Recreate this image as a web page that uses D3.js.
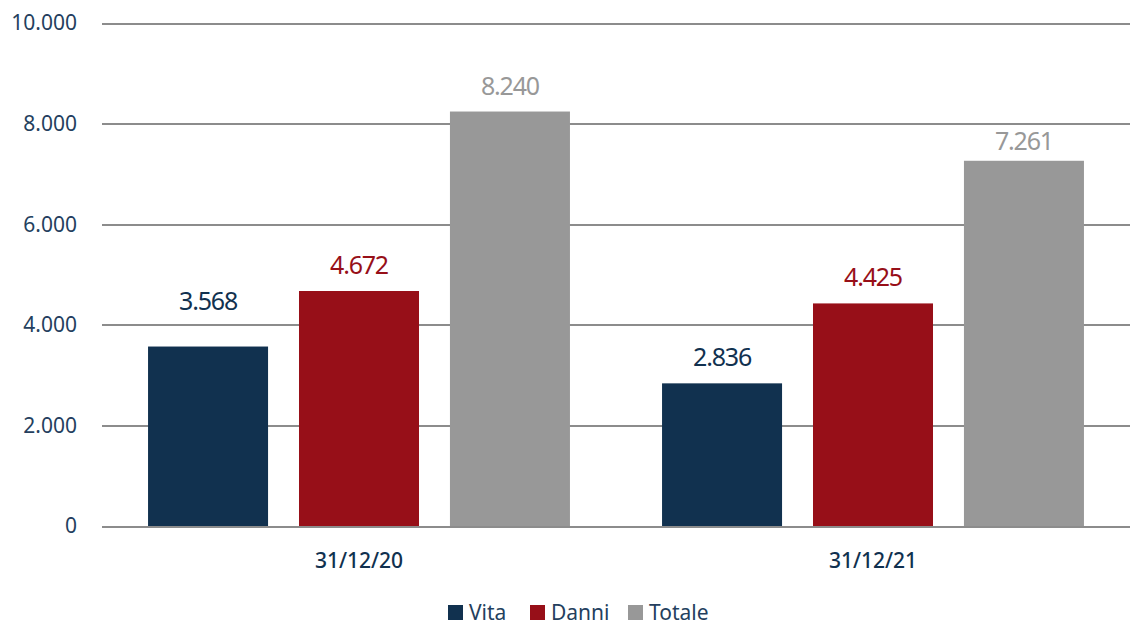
<!DOCTYPE html>
<html>
<head>
<meta charset="utf-8">
<title>Vita / Danni / Totale</title>
<style>
  body { margin: 0; background: #fff; font-family: "Noto Sans", sans-serif; }
  .grid line { stroke: #8c8c8c; stroke-width: 2; shape-rendering: crispEdges; }
  .grid path { display: none; }
</style>
</head>
<body>
<svg width="1132" height="625"></svg>
<script src="https://d3js.org/d3.v7.min.js"></script>
<script>
var categories = ["31/12/20", "31/12/21"];
var series = ["Vita", "Danni", "Totale"];
var vita   = [3568, 2836];
var danni  = [4672, 4425];
var totale = [8240, 7261];
var yTicks = [0, 2000, 4000, 6000, 8000, 10000];

var colors = ["#11314f", "#970f18", "#989898"];
var values = [vita, danni, totale];

var svg = d3.select("svg"),
    margin = {top: 23, right: 2, bottom: 99, left: 102},
    width = +svg.attr("width") - margin.left - margin.right,
    height = +svg.attr("height") - margin.top - margin.bottom,
    g = svg.append("g").attr("transform", "translate(" + margin.left + "," + margin.top + ")");

var it = d3.formatLocale({decimal: ",", thousands: ".", grouping: [3], currency: ["", "€"]});
var fmt = it.format(",d");

var x0 = d3.scaleBand().domain(categories).range([0, width]);
var x1 = d3.scaleBand().domain(series).range([0, x0.bandwidth()])
    .paddingInner(0.205).paddingOuter(0.305);
var y = d3.scaleLinear().domain([0, 10000]).range([height, 0]);
var z = d3.scaleOrdinal().domain(series).range(colors);

// gridlines
g.append("g")
  .attr("class", "grid")
  .call(d3.axisLeft(y).tickValues(yTicks).tickSize(-width).tickFormat(""));

// y labels
g.append("g")
  .selectAll("text")
  .data(yTicks)
  .enter().append("text")
  .attr("x", -25)
  .attr("y", function(d) { return y(d); })
  .attr("dy", "0.35em")
  .attr("text-anchor", "end")
  .attr("font-size", 21)
  .attr("fill", "#243f5e")
  .text(function(d) { return fmt(d); });

var rows = [];
categories.forEach(function(c, i) {
  series.forEach(function(s, j) { rows.push({cat: c, key: s, value: values[j][i]}); });
});

// keep value labels clear of the gridlines
var capH = 18;
function labelY(v) {
  var base = y(v) - 17, top = base - capH - 4;
  yTicks.forEach(function(t) {
    var gy = y(t);
    if (gy >= top && gy <= base) {
      if (gy > (top + base) / 2) base = gy - 15;
      else base = gy + 8 + capH;
    }
  });
  return base;
}

var bars = g.append("g").selectAll("g")
  .data(rows)
  .enter().append("g")
  .attr("transform", function(d) { return "translate(" + (x0(d.cat) + x1(d.key)) + ",0)"; });

bars.append("rect")
  .attr("y", function(d) { return y(d.value); })
  .attr("width", x1.bandwidth())
  .attr("height", function(d) { return height - y(d.value); })
  .attr("fill", function(d) { return z(d.key); });

bars.append("text")
  .attr("x", x1.bandwidth() / 2)
  .attr("y", function(d) { return labelY(d.value); })
  .attr("text-anchor", "middle")
  .attr("font-size", 25)
  .attr("letter-spacing", "-1.2px")
  .attr("fill", function(d) { return z(d.key); })
  .text(function(d) { return fmt(d.value); });

// category labels
g.append("g").selectAll("text")
  .data(categories)
  .enter().append("text")
  .attr("x", function(d) { return x0(d) + x0.bandwidth() / 2; })
  .attr("y", height + 42)
  .attr("text-anchor", "middle")
  .attr("font-size", 21)
  .attr("font-weight", 500)
  .attr("fill", "#11314f")
  .text(function(d) { return d; });

// legend
var legendX = [448, 530, 628];
var legend = svg.append("g").selectAll("g")
  .data(series)
  .enter().append("g")
  .attr("transform", function(d, i) { return "translate(" + legendX[i] + ",605)"; });

legend.append("rect")
  .attr("width", 15)
  .attr("height", 15)
  .attr("fill", z);

legend.append("text")
  .attr("x", 21)
  .attr("y", 15)
  .attr("font-size", 21)
  .attr("fill", "#243f5e")
  .text(function(d) { return d; });
</script>
</body>
</html>
